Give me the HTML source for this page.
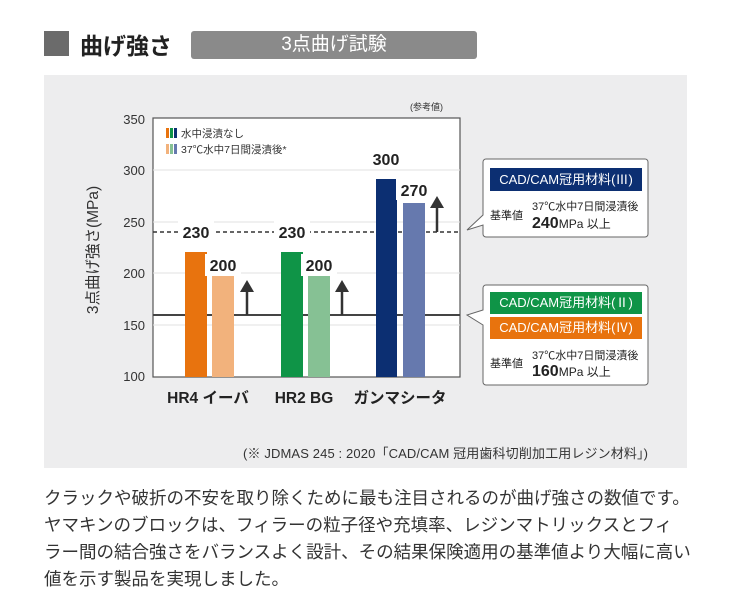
<!DOCTYPE html>
<html><head><meta charset="utf-8"><style>
body{margin:0;width:730px;height:616px;background:#fff;font-family:"Liberation Sans","Noto Sans CJK JP",sans-serif;position:relative;overflow:hidden;color:#222}
.a{position:absolute}
.p{font-size:17.5px;color:#333;left:44px;white-space:nowrap;line-height:27px}
</style></head><body>
<div class="a" style="left:44px;top:31px;width:25px;height:25px;background:#6b6b6b"></div>
<div class="a" style="left:80px;top:27px;font-size:23px;font-weight:bold;color:#222">曲げ強さ</div>
<div class="a" style="left:191px;top:31px;width:286px;height:28px;background:#8a8a8a;border-radius:3px;color:#fff;font-size:19px;text-align:center;line-height:28px">3点曲げ試験</div>
<div class="a" style="left:44px;top:75px;width:643px;height:393px;background:#ededee"></div>
<svg class="a" style="left:0;top:0" width="730" height="616" font-family="Liberation Sans, Noto Sans CJK JP, sans-serif">
<rect x="153" y="118" width="307" height="259" fill="#fff" stroke="#555" stroke-width="1.2"/>
<g stroke="#e2e2e2" stroke-width="1">
<line x1="153" y1="170" x2="460" y2="170"/><line x1="153" y1="222" x2="460" y2="222"/><line x1="153" y1="273" x2="460" y2="273"/><line x1="153" y1="325" x2="460" y2="325"/></g>
<g font-size="13" fill="#333" text-anchor="end">
<text x="145" y="124">350</text><text x="145" y="175">300</text><text x="145" y="227">250</text><text x="145" y="278">200</text><text x="145" y="330">150</text><text x="145" y="381">100</text></g>
<text x="443" y="110" font-size="9" fill="#333" text-anchor="end">(参考値)</text>
<text transform="translate(98,250) rotate(-90)" font-size="15.5" fill="#333" text-anchor="middle">3点曲げ強さ(MPa)</text>
<line x1="153" y1="232" x2="460" y2="232" stroke="#333" stroke-width="1.5" stroke-dasharray="4,3"/>
<line x1="153" y1="315" x2="460" y2="315" stroke="#444" stroke-width="2"/>
<rect x="185" y="252" width="22" height="125" fill="#e8730e"/>
<rect x="212" y="276" width="22" height="101" fill="#f2b27c"/>
<rect x="281" y="252" width="22" height="125" fill="#0f9447"/>
<rect x="308" y="276" width="22" height="101" fill="#86c194"/>
<rect x="376" y="179" width="21" height="198" fill="#0c2f72"/>
<rect x="403" y="203" width="22" height="174" fill="#6679ae"/>
<g fill="#fff"><rect x="178" y="220" width="36" height="22"/><rect x="274" y="220" width="36" height="22"/><rect x="205" y="254" width="36" height="22"/><rect x="301" y="254" width="36" height="22"/><rect x="368" y="147" width="38" height="22"/><rect x="396" y="178" width="36" height="22"/></g>
<g font-size="16" font-weight="bold" fill="#222" text-anchor="middle">
<text x="196" y="238">230</text><text x="292" y="238">230</text><text x="223" y="271">200</text><text x="319" y="271">200</text><text x="386" y="165">300</text><text x="414" y="196">270</text></g>
<g stroke="#333" stroke-width="2.5" fill="#333">
<line x1="247" y1="315" x2="247" y2="290"/><line x1="342" y1="315" x2="342" y2="290"/><line x1="437" y1="232" x2="437" y2="206"/></g>
<g fill="#333"><polygon points="240,292 254,292 247,280"/><polygon points="335,292 349,292 342,280"/><polygon points="430,208 444,208 437,196"/></g>
<rect x="166" y="128" width="3" height="10" fill="#e8730e"/><rect x="170" y="128" width="3" height="10" fill="#0f9447"/><rect x="174" y="128" width="3" height="10" fill="#0c2f72"/>
<rect x="166" y="144" width="3" height="10" fill="#f2b27c"/><rect x="170" y="144" width="3" height="10" fill="#86c194"/><rect x="174" y="144" width="3" height="10" fill="#6679ae"/>
<text x="181" y="137" font-size="10.5" fill="#333">水中浸漬なし</text>
<text x="181" y="153" font-size="10.5" fill="#333">37℃水中7日間浸漬後*</text>
<g font-size="15.5" font-weight="bold" fill="#222" text-anchor="middle"><text x="208" y="403">HR4 イーバ</text><text x="304" y="403">HR2 BG</text><text x="400" y="403">ガンマシータ</text></g>
<path d="M486,159 H645 a3,3 0 0 1 3,3 V234 a3,3 0 0 1 -3,3 H486 a3,3 0 0 1 -3,-3 V225 L467,230 L483,215 V162 a3,3 0 0 1 3,-3Z" fill="#fff" stroke="#666" stroke-width="1"/>
<rect x="490" y="168" width="152" height="23" fill="#0c2f72"/>
<text x="566" y="184" font-size="13" fill="#fff" text-anchor="middle">CAD/CAM冠用材料(Ⅲ)</text>
<text x="490" y="219" font-size="11" fill="#222">基準値</text>
<text x="532" y="210" font-size="11" fill="#222">37℃水中7日間浸漬後</text>
<text x="532" y="228" font-size="16" font-weight="bold" fill="#222">240<tspan font-size="12" font-weight="normal">MPa 以上</tspan></text>
<path d="M486,285 H645 a3,3 0 0 1 3,3 V382 a3,3 0 0 1 -3,3 H486 a3,3 0 0 1 -3,-3 V325 L467,315 L483,310 V288 a3,3 0 0 1 3,-3Z" fill="#fff" stroke="#666" stroke-width="1"/>
<rect x="490" y="292" width="152" height="22" fill="#0f9447"/>
<text x="566" y="307" font-size="13" fill="#fff" text-anchor="middle">CAD/CAM冠用材料(Ⅱ)</text>
<rect x="490" y="317" width="152" height="22" fill="#e8730e"/>
<text x="566" y="332" font-size="13" fill="#fff" text-anchor="middle">CAD/CAM冠用材料(Ⅳ)</text>
<text x="490" y="367" font-size="11" fill="#222">基準値</text>
<text x="532" y="359" font-size="11" fill="#222">37℃水中7日間浸漬後</text>
<text x="532" y="376" font-size="16" font-weight="bold" fill="#222">160<tspan font-size="12" font-weight="normal">MPa 以上</tspan></text>
<text x="243" y="458" font-size="13" fill="#333" textLength="405">(※  JDMAS 245 : 2020「CAD/CAM 冠用歯科切削加工用レジン材料」)</text>
</svg>
<div class="a p" style="top:485px">クラックや破折の不安を取り除くために最も注目されるのが曲げ強さの数値です。</div>
<div class="a p" style="top:512px">ヤマキンのブロックは、フィラーの粒子径や充填率、レジンマトリックスとフィ</div>
<div class="a p" style="top:539px">ラー間の結合強さをバランスよく設計、その結果保険適用の基準値より大幅に高い</div>
<div class="a p" style="top:566px">値を示す製品を実現しました。</div>
</body></html>
